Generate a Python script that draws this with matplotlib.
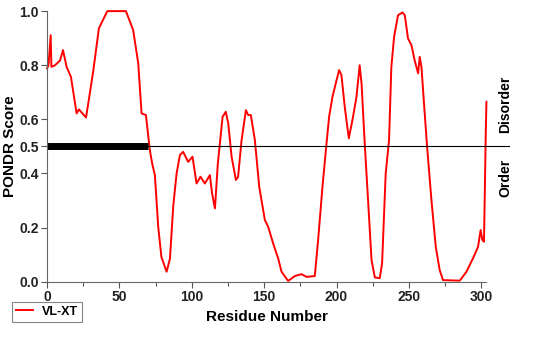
import matplotlib.pyplot as plt

# PONDR VL-XT score (residue, score)
residues = [0, 1, 2.5, 3, 5.5, 9, 11, 13.5, 16.5, 20.4, 22, 26.9, 28.5, 32, 35.8,
            41.6, 54.5, 59.5, 63, 65.3, 68.3, 71, 72.7, 74.5, 76.8, 79, 82.6,
            84.9, 87.2, 89.5, 91.8, 94, 97.5, 100.5, 103.3, 106, 109, 112.5, 114,
            116, 118, 121.3, 123.5, 125.2, 127.5, 130.5, 132, 134.4, 137.4, 139,
            140.8, 143.6, 146.6, 150.5, 152.8, 156.2, 159.7, 162, 166.6, 171.2,
            175.8, 179.3, 185, 187.3, 190.3, 193.1, 194.9, 197.2, 199.5, 201.8,
            203.4, 205.7, 208.5, 211, 213.8, 216, 217.3, 219.5, 221.8, 224.2,
            226.5, 229.9, 231.5, 234, 236.3, 237.9, 239.8, 242.5, 245.6, 247.2,
            249.4, 251.8, 254, 256.4, 257.5, 258.7, 260.3, 262.6, 265.6, 268.6,
            271.3, 273.6, 285.2, 289.8, 294.8, 297.8, 299.6, 300.8, 301.9, 302.4,
            303.1, 303.6]
scores = [0.788, 0.80, 0.911, 0.794, 0.80, 0.818, 0.856, 0.794, 0.757, 0.622,
          0.637, 0.607, 0.66, 0.782, 0.936, 1.0, 1.0, 0.93, 0.807, 0.622, 0.616,
          0.487, 0.435, 0.394, 0.203, 0.092, 0.037, 0.085, 0.28, 0.40, 0.468,
          0.48, 0.443, 0.462, 0.363, 0.388, 0.363, 0.394, 0.327, 0.271, 0.437,
          0.61, 0.628, 0.585, 0.462, 0.376, 0.388, 0.523, 0.634, 0.616, 0.616,
          0.523, 0.351, 0.228, 0.203, 0.142, 0.086, 0.037, 0.003, 0.021, 0.028,
          0.018, 0.021, 0.154, 0.351, 0.511, 0.61, 0.683, 0.733, 0.782, 0.764,
          0.646, 0.53, 0.597, 0.683, 0.80, 0.733, 0.511, 0.302, 0.08, 0.016,
          0.013, 0.068, 0.40, 0.523, 0.794, 0.905, 0.985, 0.995, 0.985, 0.899,
          0.874, 0.818, 0.77, 0.831, 0.794, 0.671, 0.499, 0.302, 0.129, 0.043,
          0.006, 0.004, 0.037, 0.092, 0.129, 0.191, 0.154, 0.148, 0.302, 0.536,
          0.665]

# thick black bar on the 0.5 line
bar_start, bar_end = 0, 70
seq_len = 303.6

plt.rcParams['font.family'] = ['Liberation Sans', 'DejaVu Sans']

fig = plt.figure(figsize=(5.41, 3.37), dpi=100)
ax = fig.add_axes([0.087, 0.164, 0.856, 0.803])

ax.plot(residues, scores, color='#ff0000', lw=1.4, label='VL-XT', clip_on=False)
ax.axhline(0.5, color='black', lw=0.8)
ax.plot([bar_start, bar_end], [0.5, 0.5], color='black', lw=5,
        solid_capstyle='butt')

ax.set_xlim(0, 320)
ax.set_ylim(0, 1)
ax.set_xticks([0, 50, 100, 150, 200, 250, 300])
ax.set_xticks([25, 75, 125, 175, 225, 275], minor=True)
ax.set_yticks([0.0, 0.2, 0.4, 0.5, 0.6, 0.8, 1.0])
ax.set_yticklabels(['0.0', '0.2', '0.4', '0.5', '0.6', '0.8', '1.0'])
for lab in ax.get_xticklabels() + ax.get_yticklabels():
    lab.set_fontweight('bold')
    lab.set_fontsize(10)
ax.tick_params(colors='#555555', labelcolor='#222222', length=4, width=0.8,
               pad=2)
ax.tick_params(which='minor', length=3, width=0.8, colors='#555555')

ax.spines['top'].set_visible(False)
ax.spines['right'].set_visible(False)
ax.spines['left'].set_color('#666666')
ax.spines['bottom'].set_color('#666666')
ax.spines['bottom'].set_bounds(0, seq_len)

ax.set_xlabel('Residue Number', fontsize=11, fontweight='bold')
ax.set_ylabel('PONDR Score', fontsize=11, fontweight='bold')
ax.xaxis.set_label_coords(0.475, -0.105)
ax.yaxis.set_label_coords(-0.064, 0.5)

ax.text(0.99, 0.655, 'Disorder', transform=ax.transAxes, rotation=90,
        ha='center', va='center', fontsize=10, fontweight='bold')
ax.text(0.99, 0.385, 'Order', transform=ax.transAxes, rotation=90,
        ha='center', va='center', fontsize=10, fontweight='bold')

leg = fig.legend(loc='upper left', bbox_to_anchor=(12 / 541, 1 - 302 / 337),
                 fancybox=False, edgecolor='#666666', handlelength=1.4,
                 borderpad=0.3, prop={'weight': 'bold', 'size': 9},
                 handletextpad=0.7, borderaxespad=0)
leg.get_frame().set_linewidth(0.8)

plt.savefig('out.png', dpi=100)
